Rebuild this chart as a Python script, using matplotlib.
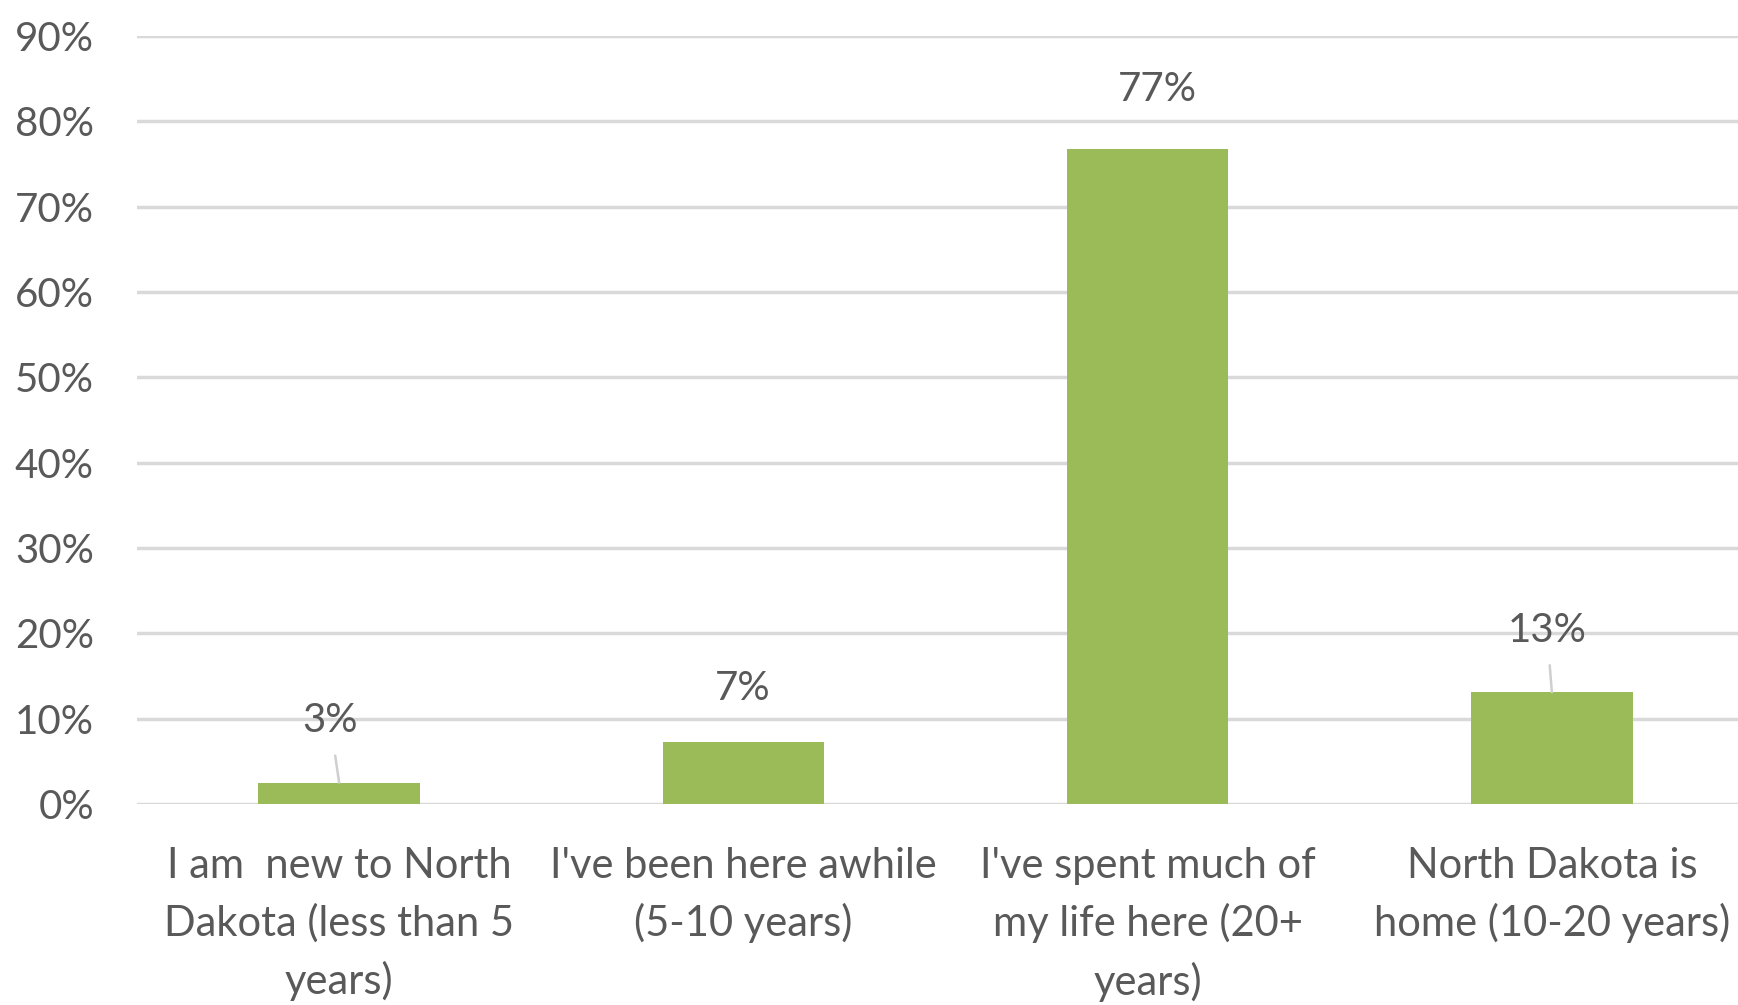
import matplotlib
matplotlib.use('Agg')
import matplotlib.pyplot as plt
from matplotlib.ticker import PercentFormatter

categories = ['I am  new to North\nDakota (less than 5\nyears)',
              "I've been here awhile\n(5-10 years)",
              "I've spent much of\nmy life here (20+\nyears)",
              'North Dakota is\nhome (10-20 years)']
values = [2.5, 7.3, 76.8, 13.1]
labels = ['3%', '7%', '77%', '13%']
yticks = [0, 10, 20, 30, 40, 50, 60, 70, 80, 90]

# label offsets in pixels (dx, dy) and whether a leader line is drawn
label_offsets = [(-9, 62), (-1, 53), (10, 59), (-5, 62)]
leaders = [True, False, False, True]

green = '#9BBB59'
grey_text = '#595959'
grid_col = '#D9D9D9'

plt.rcParams['font.family'] = ['Lato', 'DejaVu Sans']

fig = plt.figure(figsize=(17.38, 10.05), dpi=100)
ax = fig.add_axes([137/1738, 0.2, 1617/1738, 768/1005])

x = range(len(categories))
ax.bar(x, values, width=0.4, color=green, zorder=3)

for i, v in enumerate(values):
    dx, dy = label_offsets[i]
    props = None
    if leaders[i]:
        props = dict(arrowstyle='-', color='#CFCFCF', lw=1.8, shrinkA=10, shrinkB=0)
    ax.annotate(labels[i], xy=(i, v), xytext=(dx, dy), textcoords='offset pixels',
                ha='center', va='center', fontsize=29, color=grey_text,
                arrowprops=props, zorder=4)

ax.set_xlim(-0.5, len(categories) - 0.5)
ax.set_ylim(0, 90)
ax.set_yticks(yticks)
ax.yaxis.set_major_formatter(PercentFormatter(decimals=0))
ax.set_xticks(list(x))
ax.set_xticklabels(categories, fontsize=30, color=grey_text, linespacing=1.55)
ax.tick_params(axis='y', labelsize=29, labelcolor=grey_text, length=0, pad=31)
ax.tick_params(axis='x', length=0, pad=31)

ax.grid(axis='y', color=grid_col, lw=2.5, zorder=0)
for s in ax.spines.values():
    s.set_visible(False)
ax.set_facecolor('white')
fig.patch.set_facecolor('white')

fig.savefig('out.png', dpi=100, facecolor='white')
